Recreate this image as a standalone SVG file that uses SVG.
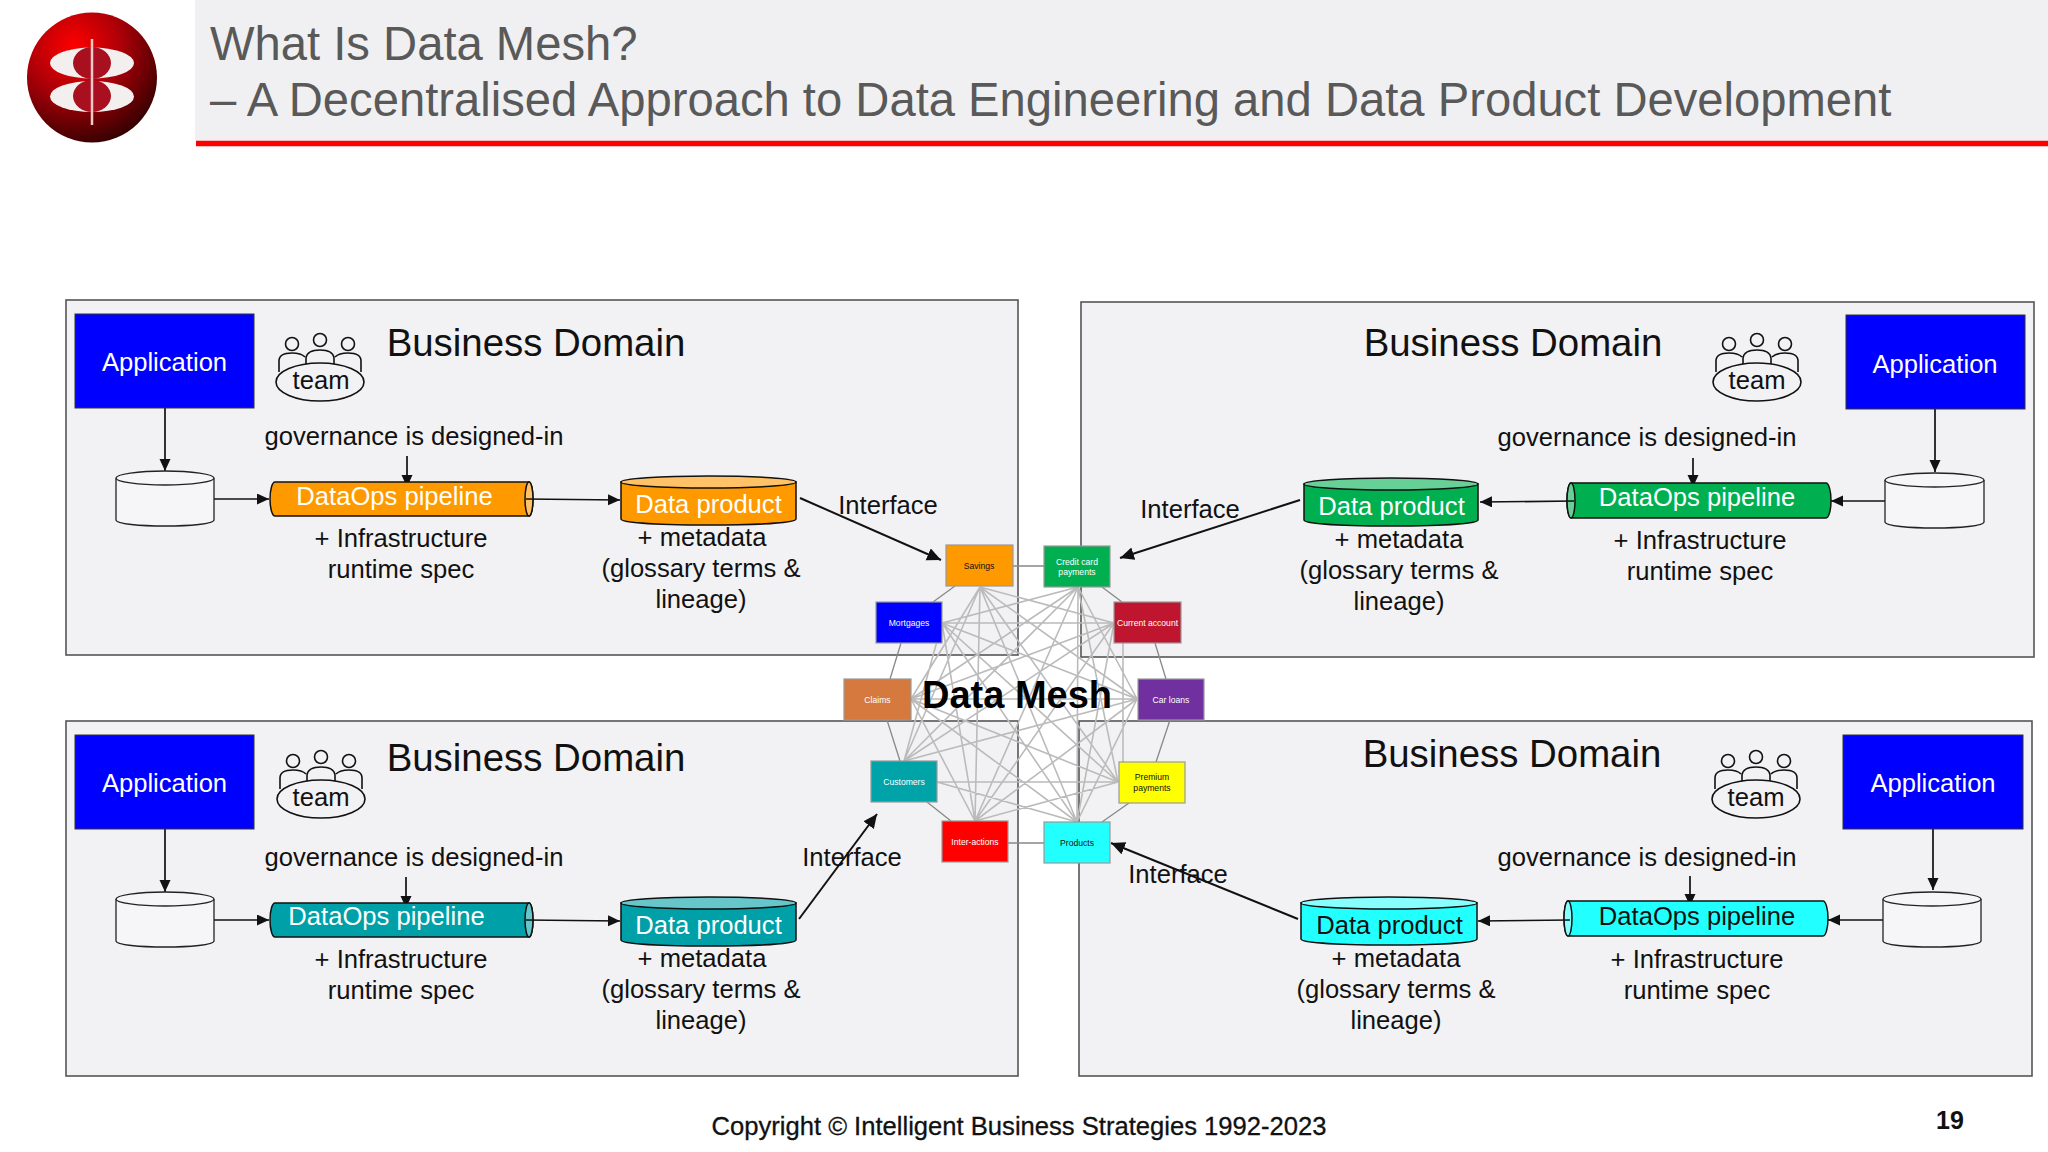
<svg xmlns="http://www.w3.org/2000/svg" width="2048" height="1152" viewBox="0 0 2048 1152">
<style>
text{font-family:"Liberation Sans",Arial,sans-serif;text-anchor:middle;fill:#111}
.panel{fill:#f2f2f4;stroke:#555;stroke-width:1.6}
.app{fill:#00f;stroke:#333;stroke-width:1}
.w{fill:#fff}
.t25{font-size:25.6px}
.bd{font-size:38.4px}
.title{font-size:47.2px;fill:#595959;text-anchor:start}
.o{stroke:#111;stroke-width:1.5}
.org{fill:#f90}.orgl{fill:#ffc266}
.grn{fill:#00b050}.grnl{fill:#66d096}
.tel{fill:#00a0a8}.tell{fill:#66c6ca}
.cyn{fill:#2ff}.cynl{fill:#8ff}
.db{fill:#f6f6f8;stroke:#222;stroke-width:1.3}
.c{fill:none;stroke:#111;stroke-width:1.7}
.a{marker-end:url(#ah)}
.b{marker-end:url(#ab);stroke-width:2}
.mesh{fill:none;stroke:#bbb;stroke-width:1.6}
.ring{fill:none;stroke:#888;stroke-width:1.3}
.mn{stroke:#999;stroke-width:1.2}
.m{font-size:8.6px;fill:#fff}
.k{fill:#111}
.tm{fill:none;stroke:#111;stroke-width:1.6}
</style>
<defs>
<marker id="ah" markerUnits="userSpaceOnUse" markerWidth="13" markerHeight="12" refX="12" refY="5.5" orient="auto"><path d="M0 0L12 5.5L0 11Z" fill="#111"/></marker>
<marker id="ab" markerUnits="userSpaceOnUse" markerWidth="15" markerHeight="14" refX="14" refY="6.5" orient="auto"><path d="M0 0L14 6.5L0 13Z" fill="#111"/></marker>
<radialGradient id="lg" cx="0.36" cy="0.26" r="0.85"><stop offset="0" stop-color="#f00"/><stop offset="0.45" stop-color="#a80008"/><stop offset="1" stop-color="#200000"/></radialGradient>
<g id="people" class="tm">
<circle cx="-28" cy="-38" r="6.500"/><circle cx="0" cy="-42" r="6.500"/><circle cx="28" cy="-38" r="6.500"/>
<path d="M-41 -10V-21Q-41 -29 -28 -29Q-19 -29 -15 -25M-14 -18V-24Q-13 -32 0 -32Q13 -32 14 -24V-18M15 -25Q19 -29 28 -29Q41 -29 41 -21V-10"/>
<ellipse cx="0" cy="0" rx="44" ry="19"/>
</g>
</defs>
<rect width="2048" height="1152" fill="#fff"/>

<g id="header">
<rect x="195" y="0" width="1853" height="141" fill="#f0f0f2"/>
<path d="M196 143.500L2048 143.500" stroke="#f00" stroke-width="5.500"/>
<text class="title" x="210" y="60">What Is Data Mesh?</text>
<text class="title" x="210" y="116">– A Decentralised Approach to Data Engineering and Data Product Development</text>
</g>
<g id="logo">
<circle cx="92" cy="77.500" r="65" fill="url(#lg)"/>
<ellipse cx="92" cy="63" rx="42" ry="15.500" fill="#f4efef"/>
<ellipse cx="92" cy="96.500" rx="42" ry="15.500" fill="#f4efef"/>
<ellipse cx="92" cy="63" rx="19" ry="16" fill="#a80f1f"/>
<ellipse cx="92" cy="96" rx="19" ry="16" fill="#a80f1f"/>
<path d="M92 39V125" stroke="#f2c8c8" stroke-width="2.500"/>
</g>

<g id="domain-tl"><rect class="panel" x="66" y="300" width="952" height="355"/></g>
<g id="domain-tr"><rect class="panel" x="1081" y="302" width="953" height="355"/></g>
<g id="domain-bl"><rect class="panel" x="66" y="721" width="952" height="355"/></g>
<g id="domain-br"><rect class="panel" x="1079" y="721" width="953" height="355"/></g>

<g id="mesh-lines">
<path class="mesh" d="M980 587L1114 623M980 587L1137 699M980 587L1118 782M980 587L1077 822M980 587L975 821M980 587L904 761M980 587L911 699
M1078 587L1137 699M1078 587L1118 782M1078 587L1077 822M1078 587L975 821M1078 587L904 761M1078 587L911 699M1078 587L942 623
M1123 643L1123 762M1114 623L1077 822M1114 623L975 821M1114 623L904 761M1114 623L911 699M1114 623L942 623
M1137 699L1077 822M1137 699L975 821M1137 699L904 761M1137 699L911 699M1137 699L942 623
M1118 782L975 821M1118 782L937 782M1118 782L911 699M1118 782L942 623
M1077 822L937 782M1077 822L911 699M1077 822L942 623
M975 821L911 699M975 821L942 623
M904 761L942 623"/>
<path class="ring" d="M1013 566H1044M1102 587L1122 602M1155 643L1166 679M1170 720L1156 762M1129 803L1102 822M1008 843H1044M951 821L927 802M900 761L887 720M890 679L901 643M933 602L955 586"/>
</g>

<g id="connectors">
<path class="c a" d="M165 408V471"/>
<path class="c a" d="M407 456V487"/>
<path class="c a" d="M214 499H269"/>
<path class="c a" d="M1935 409V472"/>
<path class="c a" d="M1693 458V487"/>
<path class="c a" d="M1885 501H1831"/>
<path class="c a" d="M165 829V892"/>
<path class="c a" d="M406 877V908"/>
<path class="c a" d="M214 920H269"/>
<path class="c a" d="M1933 828V890"/>
<path class="c a" d="M1690 876V906"/>
<path class="c a" d="M1883 920H1828"/>
</g>

<g id="app-tl"><rect class="app" x="75" y="314" width="179" height="94"/><text class="w t25" x="164.500" y="371">Application</text></g>
<g id="app-tr"><rect class="app" x="1846" y="315" width="179" height="94"/><text class="w t25" x="1935" y="373">Application</text></g>
<g id="app-bl"><rect class="app" x="75" y="735" width="179" height="94"/><text class="w t25" x="164.500" y="792">Application</text></g>
<g id="app-br"><rect class="app" x="1843" y="735" width="180" height="94"/><text class="w t25" x="1933" y="792">Application</text></g>

<g id="team-tl"><use href="#people" x="320" y="382"/><text class="t25" x="321" y="389">team</text></g>
<g id="team-tr"><use href="#people" x="1757" y="382"/><text class="t25" x="1757" y="389">team</text></g>
<g id="team-bl"><use href="#people" x="321" y="799"/><text class="t25" x="321" y="806">team</text></g>
<g id="team-br"><use href="#people" x="1756" y="799"/><text class="t25" x="1756" y="806">team</text></g>

<g id="labels-tl">
<text class="bd" x="536" y="356">Business Domain</text>
<text class="t25" x="414" y="445">governance is designed-in</text>
<text class="t25" x="401" y="547">+ Infrastructure</text>
<text class="t25" x="401" y="578">runtime spec</text>
<text class="t25" x="702" y="546">+ metadata</text>
<text class="t25" x="701" y="577">(glossary terms &amp;</text>
<text class="t25" x="701" y="608">lineage)</text>
</g>
<g id="labels-tr">
<text class="bd" x="1513" y="356">Business Domain</text>
<text class="t25" x="1647" y="446">governance is designed-in</text>
<text class="t25" x="1700" y="549">+ Infrastructure</text>
<text class="t25" x="1700" y="580">runtime spec</text>
<text class="t25" x="1399" y="548">+ metadata</text>
<text class="t25" x="1399" y="579">(glossary terms &amp;</text>
<text class="t25" x="1399" y="610">lineage)</text>
</g>
<g id="labels-bl">
<text class="bd" x="536" y="771">Business Domain</text>
<text class="t25" x="414" y="866">governance is designed-in</text>
<text class="t25" x="401" y="968">+ Infrastructure</text>
<text class="t25" x="401" y="999">runtime spec</text>
<text class="t25" x="702" y="967">+ metadata</text>
<text class="t25" x="701" y="998">(glossary terms &amp;</text>
<text class="t25" x="701" y="1029">lineage)</text>
</g>
<g id="labels-br">
<text class="bd" x="1512" y="767">Business Domain</text>
<text class="t25" x="1647" y="866">governance is designed-in</text>
<text class="t25" x="1697" y="968">+ Infrastructure</text>
<text class="t25" x="1697" y="999">runtime spec</text>
<text class="t25" x="1396" y="967">+ metadata</text>
<text class="t25" x="1396" y="998">(glossary terms &amp;</text>
<text class="t25" x="1396" y="1029">lineage)</text>
</g>

<g id="db-tl"><path class="db" d="M116 478V520C116 528 214 528 214 520V478"/><ellipse class="db" cx="165" cy="478" rx="49" ry="7"/></g>
<g id="db-tr"><path class="db" d="M1885 480V522C1885 530 1984 530 1984 522V480"/><ellipse class="db" cx="1934.500" cy="480" rx="49.500" ry="7"/></g>
<g id="db-bl"><path class="db" d="M116 899V941C116 949 214 949 214 941V899"/><ellipse class="db" cx="165" cy="899" rx="49" ry="7"/></g>
<g id="db-br"><path class="db" d="M1883 899V941C1883 949 1981 949 1981 941V899"/><ellipse class="db" cx="1932" cy="899" rx="49" ry="7"/></g>

<g id="pipeline-tl">
<path class="org o" d="M275 482H529A4 17 0 0 1 529 516H275A5 17 0 0 1 275 482Z"/>
<ellipse class="orgl o" cx="529" cy="499" rx="4" ry="17"/>
<text class="w t25" x="394.500" y="505">DataOps pipeline</text>
</g>
<g id="pipeline-tr">
<path class="grn o" d="M1826 483H1571A4 17.500 0 0 0 1571 518H1826A5 17.500 0 0 0 1826 483Z"/>
<ellipse class="grnl o" cx="1571" cy="500.500" rx="4" ry="17.500"/>
<text class="w t25" x="1697" y="506">DataOps pipeline</text>
</g>
<g id="pipeline-bl">
<path class="tel o" d="M275 903H529A4 17 0 0 1 529 937H275A5 17 0 0 1 275 903Z"/>
<ellipse class="tell o" cx="529" cy="920" rx="4" ry="17"/>
<text class="w t25" x="386.500" y="925">DataOps pipeline</text>
</g>
<g id="pipeline-br">
<path class="cyn o" d="M1823 901H1568A4 17.500 0 0 0 1568 936H1823A5 17.500 0 0 0 1823 901Z"/>
<ellipse class="cynl o" cx="1568" cy="918.500" rx="4" ry="17.500"/>
<text class="k t25" x="1697" y="925">DataOps pipeline</text>
</g>

<g id="product-tl">
<path class="org o" d="M621 482V519C621 527 796 527 796 519V482Z"/>
<ellipse class="orgl o" cx="708.500" cy="482" rx="87.500" ry="6"/>
<text class="w t25" x="708.500" y="513">Data product</text>
</g>
<g id="product-tr">
<path class="grn o" d="M1304 484V520C1304 528 1478 528 1478 520V484Z"/>
<ellipse class="grnl o" cx="1391" cy="484" rx="87" ry="6"/>
<text class="w t25" x="1391.500" y="515">Data product</text>
</g>
<g id="product-bl">
<path class="tel o" d="M621 903V940C621 948 796 948 796 940V903Z"/>
<ellipse class="tell o" cx="708.500" cy="903" rx="87.500" ry="6"/>
<text class="w t25" x="708.500" y="934">Data product</text>
</g>
<g id="product-br">
<path class="cyn o" d="M1301 903V939C1301 947 1477 947 1477 939V903Z"/>
<ellipse class="cynl o" cx="1389" cy="903" rx="88" ry="6"/>
<text class="k t25" x="1389.500" y="934">Data product</text>
</g>

<g id="flow-connectors">
<path class="c a" d="M526 499L620 500"/>
<path class="c a" d="M1574 501L1480 502"/>
<path class="c a" d="M526 920L620 921"/>
<path class="c a" d="M1570 920L1478 921"/>
<path class="c b" d="M800 498L941 560"/>
<path class="c b" d="M1300 500L1120 558"/>
<path class="c b" d="M799 919L877 814"/>
<path class="c b" d="M1298 919L1111 843"/>
</g>
<g id="interface-labels">
<text class="t25" x="888" y="514">Interface</text>
<text class="t25" x="1190" y="518">Interface</text>
<text class="t25" x="852" y="866">Interface</text>
<text class="t25" x="1178" y="883">Interface</text>
</g>

<g id="savings"><rect class="mn" x="946" y="545" width="67" height="41" fill="#f90"/><text class="m k" x="979" y="569">Savings</text></g>
<g id="credit"><rect class="mn" x="1044" y="546" width="66" height="41" fill="#00b050"/><text class="m" x="1077" y="565">Credit card</text><text class="m" x="1077" y="575">payments</text></g>
<g id="mortgages"><rect class="mn" x="876" y="602" width="66" height="41" fill="#00f"/><text class="m" x="909" y="626">Mortgages</text></g>
<g id="current"><rect class="mn" x="1114" y="602" width="67" height="41" fill="#c0152f"/><text class="m" x="1147.500" y="626">Current account</text></g>
<g id="claims"><rect class="mn" x="844" y="679" width="67" height="41" fill="#d5793f"/><text class="m" x="877.500" y="703">Claims</text></g>
<g id="car"><rect class="mn" x="1138" y="679" width="66" height="41" fill="#7030a0"/><text class="m" x="1171" y="703">Car loans</text></g>
<g id="customers"><rect class="mn" x="871" y="761" width="66" height="41" fill="#00a3a8"/><text class="m" x="904" y="785">Customers</text></g>
<g id="premium"><rect class="mn" x="1119" y="762" width="66" height="41" fill="#ff0"/><text class="m k" x="1152" y="780">Premium</text><text class="m k" x="1152" y="791">payments</text></g>
<g id="interactions"><rect class="mn" x="942" y="821" width="66" height="41" fill="#f00"/><text class="m" x="975" y="845">Inter-actions</text></g>
<g id="products"><rect class="mn" x="1044" y="822" width="66" height="41" fill="#2ff"/><text class="m k" x="1077" y="846">Products</text></g>

<text x="1017" y="708" font-size="38" font-weight="700" style="fill:#000">Data Mesh</text>
<text x="1019" y="1135" font-size="25.600" stroke="#111" stroke-width="0.300">Copyright © Intelligent Business Strategies 1992-2023</text>
<text x="1950" y="1129" font-size="25" font-weight="700">19</text>
</svg>
